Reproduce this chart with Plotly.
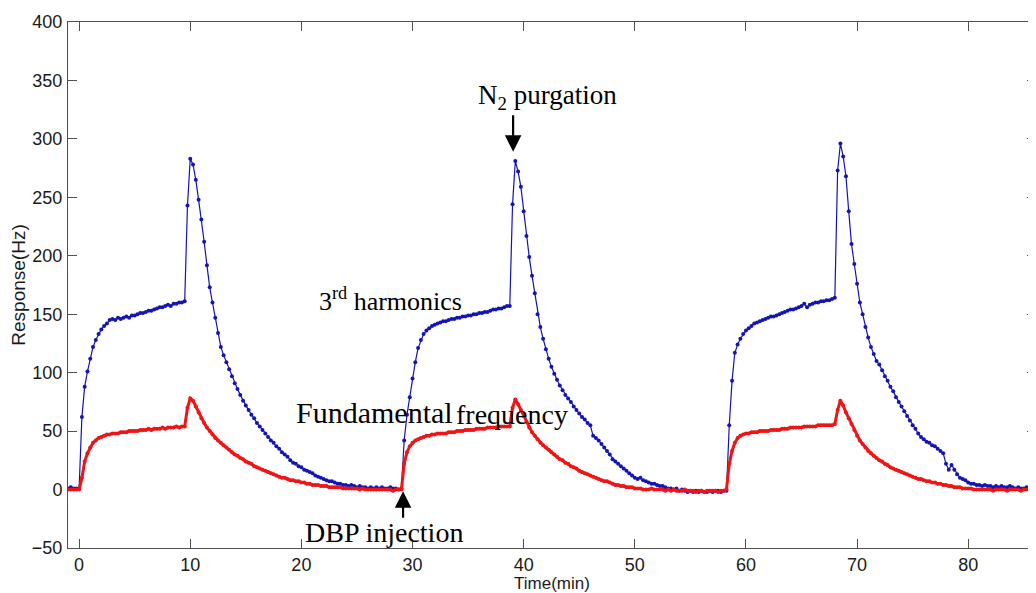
import plotly.graph_objects as go

# Sampling of both series: first sample time (min) and step (min)
TIME_START = -1.0
TIME_STEP = 0.25

# 3rd harmonics response (Hz), one row per minute (4 samples each), from t=-1
harmonic3 = [
    1, 2, 1, 1,
    1, 62, 88, 101,
    112, 122, 128, 133,
    137, 140, 142, 145,
    146, 145, 147, 146,
    147, 148, 147, 149,
    149, 150, 151, 151,
    152, 153, 153, 154,
    155, 156, 156, 157,
    158, 157, 159, 159,
    160, 160, 161, 243,
    283, 278, 265, 248,
    231, 212, 192, 173,
    160, 147, 134, 122,
    115, 109, 103, 97,
    91, 86, 81, 76,
    72, 68, 64, 61,
    57, 54, 51, 48,
    45, 42, 40, 37,
    35, 32, 30, 28,
    25, 23, 22, 20,
    19, 17, 16, 15,
    14, 12, 11, 10,
    9, 8, 7, 7,
    6, 5, 5, 4,
    4, 3, 4, 3,
    2, 3, 2, 2,
    1, 2, 1, 2,
    1, 2, 1, 1,
    2, 1, 1, 0,
    1, 42, 64, 79,
    95, 109, 121, 128,
    133, 136, 138, 140,
    141, 142, 143, 144,
    144, 145, 146, 146,
    147, 147, 148, 148,
    149, 149, 150, 150,
    151, 151, 152, 152,
    153, 154, 154, 155,
    155, 156, 157, 157,
    244, 281, 272, 259,
    238, 217, 199, 183,
    168, 150, 139, 129,
    120, 112, 105, 99,
    94, 89, 85, 81,
    78, 75, 71, 68,
    65, 62, 60, 57,
    55, 46, 44, 42,
    39, 36, 33, 30,
    26, 24, 22, 20,
    18, 16, 14, 12,
    10, 9, 10, 8,
    7, 6, 5, 5,
    4, 3, 3, 2,
    1, 1, 0, 1,
    -1, 0, -1, -2,
    -1, -2, -1, -2,
    -1, -2, -2, -1,
    -2, -1, -1, -2,
    -1, -1, 55, 93,
    117, 124, 129, 133,
    136, 138, 140, 142,
    143, 144, 145, 146,
    147, 148, 148, 149,
    150, 151, 152, 153,
    154, 154, 155, 156,
    157, 159, 156, 158,
    159, 160, 160, 161,
    161, 162, 162, 163,
    164, 273, 296, 285,
    268, 238, 210, 193,
    176, 160, 150, 139,
    130, 122, 116, 110,
    107, 102, 97, 93,
    88, 84, 79, 75,
    71, 67, 63, 59,
    55, 52, 48, 45,
    43, 41, 40, 38,
    37, 35, 33, 31,
    22, 17, 21, 17,
    13, 10, 9, 8,
    6, 5, 5, 4,
    4, 3, 4, 3,
    3, 2, 3, 2,
    3, 2, 2, 3,
    2, 1, 2, 1,
    1, 2, 1, 1,
    1,
]

# Fundamental frequency response (Hz), same sampling
fundamental = [
    0, 0, 0, 0,
    0, 10, 24, 31,
    36, 40, 42, 44,
    45, 46, 47, 47,
    48, 48, 48, 49,
    49, 49, 50, 50,
    50, 50, 51, 51,
    51, 52, 51, 52,
    52, 52, 53, 52,
    53, 53, 53, 54,
    53, 54, 54, 70,
    78, 76, 71, 66,
    61, 57, 53, 50,
    47, 44, 42, 40,
    38, 36, 34, 32,
    30, 29, 27, 26,
    24, 23, 22, 20,
    19, 18, 17, 16,
    15, 14, 13, 12,
    11, 10, 10, 9,
    8, 8, 7, 7,
    6, 6, 5, 5,
    4, 4, 4, 3,
    3, 3, 2, 2,
    2, 2, 2, 1,
    1, 1, 1, 1,
    1, 0, 1, 0,
    0, 0, 0, 0,
    0, 0, 0, 0,
    0, -1, 0, 0,
    0, 22, 32, 37,
    40, 42, 43, 44,
    45, 46, 46, 47,
    47, 48, 48, 48,
    48, 49, 49, 49,
    50, 50, 50, 51,
    51, 51, 51, 52,
    52, 52, 52, 53,
    53, 53, 53, 54,
    54, 54, 54, 54,
    70, 77, 73, 68,
    63, 58, 53, 49,
    46, 43, 40, 38,
    36, 34, 32, 30,
    28, 26, 25, 23,
    22, 20, 19, 18,
    16, 15, 14, 13,
    12, 11, 10, 9,
    8, 7, 7, 6,
    5, 4, 4, 3,
    3, 2, 2, 2,
    1, 1, 1, 0,
    0, 0, 1, 0,
    0, 0, 0, -1,
    0, -1, 0, -1,
    -1, -1, 0, -1,
    -1, -1, -2, -1,
    -1, -2, -1, -1,
    -1, -1, -2, -1,
    -1, 0, 22, 33,
    40, 44, 46, 47,
    48, 48, 49, 49,
    49, 50, 50, 50,
    50, 51, 51, 51,
    51, 52, 52, 52,
    53, 53, 53, 53,
    53, 54, 54, 54,
    54, 54, 55, 55,
    55, 55, 55, 55,
    56, 68, 76, 72,
    66, 61, 56, 51,
    46, 42, 39, 36,
    33, 31, 29, 27,
    25, 24, 22, 21,
    19, 18, 17, 16,
    15, 14, 13, 12,
    11, 10, 9, 9,
    8, 7, 7, 6,
    6, 5, 5, 4,
    4, 3, 3, 2,
    2, 2, 1, 1,
    1, 1, 0, 0,
    0, 0, 0, 0,
    0, -1, 0, 0,
    0, 0, -1, 0,
    0, 0, 0, -1,
    0, 0, 0, 0,
    0,
]

x_ticks = [0, 10, 20, 30, 40, 50, 60, 70, 80, 90]
y_ticks = [-50, 0, 50, 100, 150, 200, 250, 300, 350, 400]

# Annotation anchor points (data coordinates)
purge_time, purge_value = 39.05, 289
inject_time, inject_value = 29.15, -1.5

BLUE = "#1414b4"
RED = "#f01414"
AXIS = "#505050"
SANS = "Liberation Sans, Arial, sans-serif"
SERIF = "Liberation Serif, Times New Roman, serif"

fig = go.Figure()
fig.add_trace(go.Scatter(
    x0=TIME_START, dx=TIME_STEP, y=harmonic3, mode="lines+markers",
    line=dict(color=BLUE, width=1.2),
    marker=dict(color=BLUE, size=4),
    showlegend=False,
))
fig.add_trace(go.Scatter(
    x0=TIME_START, dx=TIME_STEP, y=fundamental, mode="lines+markers",
    line=dict(color=RED, width=3),
    marker=dict(color=RED, size=4),
    showlegend=False,
))

# arrows
fig.add_annotation(x=purge_time, y=purge_value, ax=0, ay=-38, text="",
                   showarrow=True, arrowhead=2, arrowsize=1.5, arrowwidth=2.2,
                   arrowcolor="black")
fig.add_annotation(x=inject_time, y=inject_value, ax=0, ay=28, text="",
                   showarrow=True, arrowhead=2, arrowsize=1.5, arrowwidth=2.2,
                   arrowcolor="black")

# labels
fig.add_annotation(x=42.1, y=336, text="N<sub>2</sub> purgation", showarrow=False,
                   font=dict(family=SERIF, size=27, color="black"))
fig.add_annotation(x=28.0, y=163, text="3<sup>rd</sup> harmonics", showarrow=False,
                   font=dict(family=SERIF, size=26, color="black"))
fig.add_annotation(x=19.3, y=66, text="Fundamental", showarrow=False, xanchor="left",
                   font=dict(family=SERIF, size=30, color="black"))
fig.add_annotation(x=33.75, y=64, text="frequency", showarrow=False, xanchor="left",
                   font=dict(family=SERIF, size=28, color="black"))
fig.add_annotation(x=27.4, y=-37, text="DBP injection", showarrow=False,
                   font=dict(family=SERIF, size=28, color="black"))

axis_common = dict(
    showgrid=False, zeroline=False, showline=True, linecolor=AXIS, linewidth=1,
    mirror="allticks", ticks="inside", ticklen=9, tickcolor=AXIS,
    tickfont=dict(family=SANS, size=18, color="#1a1a1a"),
)
# the page body adds an 8 px offset, so the figure is 8 px smaller each way
fig.update_layout(
    width=1028, height=585,
    margin=dict(l=60, r=0, t=14, b=45),
    paper_bgcolor="white", plot_bgcolor="white",
    xaxis=dict(range=[-1.0, 86.1], tickvals=x_ticks,
               title=dict(text="Time(min)", font=dict(family=SANS, size=17, color="#1a1a1a"), standoff=0),
               **axis_common),
    yaxis=dict(range=[-50, 400], tickvals=y_ticks, ticklabelstandoff=1,
               title=dict(text="Response(Hz)", font=dict(family=SANS, size=19, color="#1a1a1a"), standoff=4),
               **axis_common),
)

fig.write_html("out.html")
